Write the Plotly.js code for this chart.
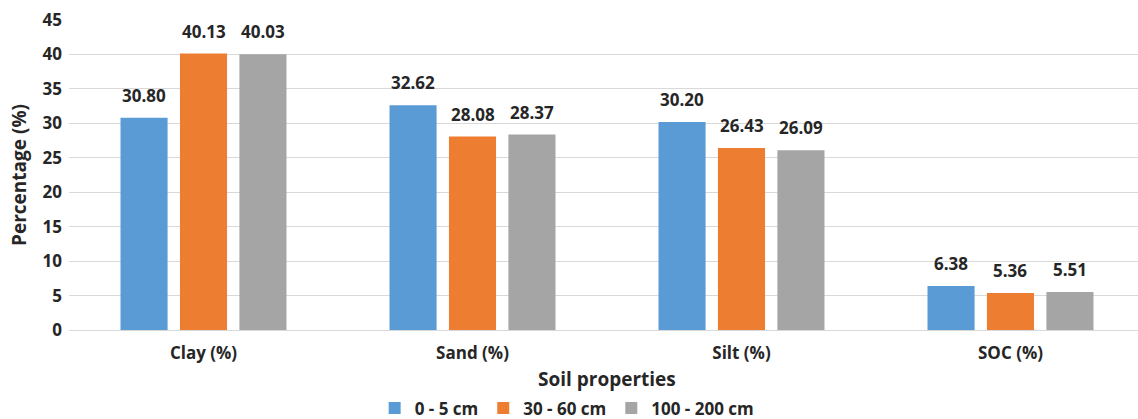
<!DOCTYPE html>
<html>
<head>
<meta charset="utf-8">
<script src="https://cdn.plot.ly/plotly-3.0.1.min.js"></script>
<style>
  html, body { margin: 0; padding: 0; background: #fff; }
  #chart { width: 1138px; height: 419px; }
</style>
</head>
<body>
<div id="chart"></div>
<script>
// Soil properties by depth
const categories = ['Clay (%)', 'Sand (%)', 'Silt (%)', 'SOC (%)'];
const depth0to5 = [30.80, 32.62, 30.20, 6.38];
const depth30to60 = [40.13, 28.08, 26.43, 5.36];
const depth100to200 = [40.03, 28.37, 26.09, 5.51];
const seriesNames = ['0 - 5 cm', '30 - 60 cm', '100 - 200 cm'];
const yTicks = [0, 5, 10, 15, 20, 25, 30, 35, 40, 45];
const xTitle = 'Soil properties';
const yTitle = 'Percentage (%)';

const colors = ['#5B9BD5', '#ED7D31', '#A5A5A5'];
const seriesValues = [depth0to5, depth30to60, depth100to200];
const FONT = '"Open Sans", "Liberation Sans", sans-serif';
const TEXT = '#262626';

const BARGAP = 0.337;
const traces = seriesValues.map((vals, i) => ({
  type: 'bar',
  name: seriesNames[i],
  x: categories,
  y: vals,
  marker: { color: colors[i] },
  hoverinfo: 'none'
}));

// value labels above each bar, offset to the bar's slot within its group
const slot = (1 - BARGAP) / 3;
const annotations = [];
seriesValues.forEach((vals, i) => {
  vals.forEach((v, j) => {
    annotations.push({
      x: j + (i - 1) * slot,
      y: v,
      xref: 'x',
      yref: 'y',
      text: v.toFixed(2),
      showarrow: false,
      yanchor: 'bottom',
      yshift: 9,
      font: { family: FONT, size: 17, color: TEXT, weight: 'bold' }
    });
  });
});

// x-axis title, placed between the category labels and the legend
annotations.push({
  x: 0.503,
  y: -0.158,
  xref: 'paper',
  yref: 'paper',
  text: xTitle,
  showarrow: false,
  xanchor: 'center',
  yanchor: 'middle',
  font: { family: FONT, size: 19, color: TEXT, weight: 'bold' }
});

const layout = {
  width: 1138,
  height: 419,
  margin: { l: 69, r: 0, t: 20, b: 89, autoexpand: false },
  paper_bgcolor: '#ffffff',
  plot_bgcolor: '#ffffff',
  barmode: 'group',
  bargap: BARGAP,
  bargroupgap: 0.208,
  showlegend: true,
  legend: {
    orientation: 'h',
    x: 0.466,
    xanchor: 'center',
    y: -0.253,
    yanchor: 'middle',
    font: { family: FONT, size: 17, color: TEXT, weight: 'bold' },
    itemwidth: 30
  },
  xaxis: {
    type: 'category',
    range: [-0.5, 3.474],
    automargin: false,
    showgrid: false,
    showline: false,
    ticks: '',
    ticklabelstandoff: 11,
    tickfont: { family: FONT, size: 17, color: TEXT, weight: 'bold' }
  },
  yaxis: {
    range: [0, 45],
    automargin: false,
    tickvals: yTicks,
    ticktext: yTicks.map(String),
    showgrid: true,
    gridcolor: '#D9D9D9',
    gridwidth: 1,
    zeroline: true,
    zerolinecolor: '#D9D9D9',
    zerolinewidth: 1,
    ticks: '',
    ticklabelstandoff: 6,
    tickfont: { family: FONT, size: 17, color: TEXT, weight: 'bold' },
    title: {
      text: yTitle,
      standoff: 10,
      font: { family: FONT, size: 19, color: TEXT, weight: 'bold' }
    }
  },
  annotations: annotations
};

Plotly.newPlot('chart', traces, layout, { staticPlot: true, displayModeBar: false });
</script>
</body>
</html>
